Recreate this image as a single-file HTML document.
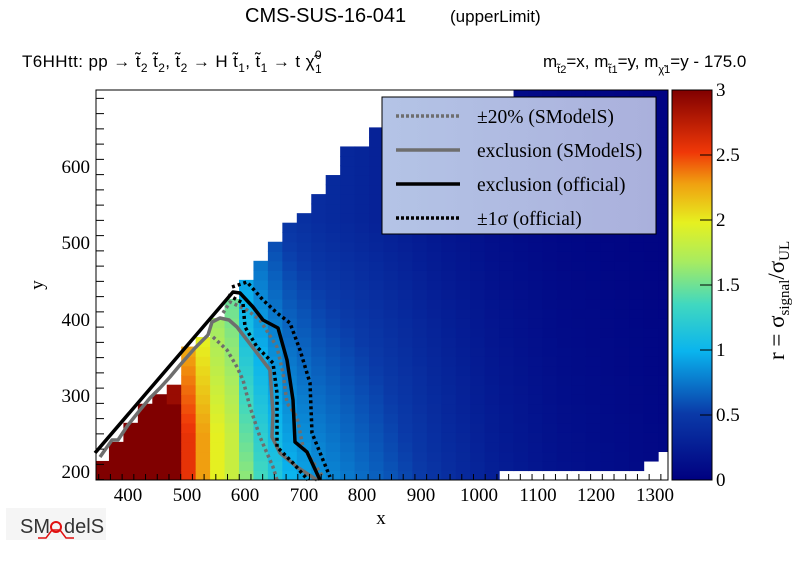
<!DOCTYPE html>
<html><head><meta charset="utf-8"><style>
body{margin:0;background:#fff;width:796px;height:572px;overflow:hidden;font-family:"Liberation Sans",sans-serif}
</style></head><body>
<svg id="s" width="796" height="572" xmlns="http://www.w3.org/2000/svg" font-family="Liberation Sans, sans-serif">
<defs>
<linearGradient id="cb" x1="0" y1="1" x2="0" y2="0">
<stop offset="0" stop-color="#000080"/>
<stop offset="0.17" stop-color="#0a3aa8"/>
<stop offset="0.33" stop-color="#0ab4ee"/>
<stop offset="0.45" stop-color="#40d8c0"/>
<stop offset="0.56" stop-color="#a8ec60"/>
<stop offset="0.66" stop-color="#e6f020"/>
<stop offset="0.76" stop-color="#f0a010"/>
<stop offset="0.84" stop-color="#f03808"/>
<stop offset="1" stop-color="#800000"/>
</linearGradient>
<linearGradient id="lg" x1="0" y1="0" x2="1" y2="0">
<stop offset="0" stop-color="#b4c4e6"/><stop offset="1" stop-color="#aab0dc"/>
</linearGradient>
</defs>
<g id="cells"></g>
<g fill="none" stroke-linejoin="round">
<polyline stroke="#6e6e6e" stroke-width="3.5" points="100,457 112,440 118,440 128,425 140,410 150,398 160,388 170,377 180,365 195,348 208,335 212,322 220,318 229,320 237,327 247,340 257,353 270,370 273,413 272,437 280,453 297,467 317,480"/>
<polyline stroke="#6e6e6e" stroke-width="3.5" stroke-dasharray="3,3" points="223,313 230,302 247,310 260,320 277,347 283,373 287,403 297,417 303,447 323,477"/>
<polyline stroke="#6e6e6e" stroke-width="3.5" stroke-dasharray="3,3" points="213,337 227,350 237,367 243,380 250,407 260,437 273,467 277,480"/>
<polyline stroke="#000" stroke-width="3.5" points="95,453 233,292 240,293 253,307 263,320 278,328 287,360 293,400 295,442 307,452 320,480"/>
<polyline stroke="#000" stroke-width="3.5" stroke-dasharray="3,3" points="232,287 247,282 263,300 277,313 290,323 300,350 310,383 312,433 323,460 330,477"/>
<polyline stroke="#000" stroke-width="3.5" stroke-dasharray="3,3" points="228,295 243,303 245,327 257,347 273,363 277,393 277,447 293,463 308,480"/>
</g>
<rect x="96" y="90" width="572" height="390" fill="none" stroke="#000" stroke-width="1"/>
<g id="ticks" stroke="#000" stroke-width="1"></g>
<g font-size="19" text-anchor="middle" fill="#000" font-family="Liberation Serif, serif">
<text x="128" y="501">400</text><text x="187" y="501">500</text><text x="245" y="501">600</text><text x="304" y="501">700</text><text x="362" y="501">800</text><text x="421" y="501">900</text><text x="479" y="501">1000</text><text x="538" y="501">1100</text><text x="596" y="501">1200</text><text x="655" y="501">1300</text>
<text x="381" y="524">x</text>
</g>
<g font-size="19" text-anchor="end" fill="#000" font-family="Liberation Serif, serif">
<text x="90" y="478">200</text><text x="90" y="402">300</text><text x="90" y="326">400</text><text x="90" y="249">500</text><text x="90" y="173">600</text>
</g>
<text x="43" y="285" font-size="19" font-family="Liberation Serif, serif" transform="rotate(-90 43 285)" text-anchor="middle">y</text>
<rect x="382" y="97" width="274" height="137" fill="url(#lg)" stroke="#000" stroke-width="1"/>
<g stroke-width="3.5">
<line x1="396" y1="116" x2="460" y2="116" stroke="#6e6e6e" stroke-dasharray="3,2"/>
<line x1="396" y1="150" x2="460" y2="150" stroke="#6e6e6e"/>
<line x1="396" y1="184" x2="460" y2="184" stroke="#000"/>
<line x1="396" y1="218" x2="460" y2="218" stroke="#000" stroke-dasharray="3,2"/>
</g>
<g font-size="19.5" font-family="Liberation Serif, serif">
<text x="477" y="123">±20% (SModelS)</text>
<text x="477" y="157">exclusion (SModelS)</text>
<text x="477" y="191">exclusion (official)</text>
<text x="477" y="225">±1σ (official)</text>
</g>
<rect x="672" y="90" width="40" height="390" fill="url(#cb)"/>
<rect x="672" y="90" width="40" height="390" fill="none" stroke="#000"/>
<g stroke="#000"><line x1="700" y1="480" x2="712" y2="480"/><line x1="700" y1="415" x2="712" y2="415"/><line x1="700" y1="350" x2="712" y2="350"/><line x1="700" y1="285" x2="712" y2="285"/><line x1="700" y1="220" x2="712" y2="220"/><line x1="700" y1="155" x2="712" y2="155"/><line x1="700" y1="90" x2="712" y2="90"/></g>
<g font-size="19" font-family="Liberation Serif, serif">
<text x="716" y="486">0</text><text x="716" y="421">0.5</text><text x="716" y="356">1</text><text x="716" y="291">1.5</text><text x="716" y="226">2</text><text x="716" y="161">2.5</text><text x="716" y="96">3</text>
</g>
<text transform="translate(784,360) rotate(-90)" font-size="23" font-family="Liberation Serif, serif">r = σ<tspan font-size="15" dy="5">signal</tspan><tspan dy="-5">/σ</tspan><tspan font-size="15" dy="5">UL</tspan></text>
<text x="245" y="22" font-size="20">CMS-SUS-16-041<tspan x="450" font-size="17">(upperLimit)</tspan></text>
<text x="22" y="67" font-size="17" textLength="300">T6HHtt: pp → t̃<tspan font-size="12" dy="5">2</tspan><tspan dy="-5"> t̃</tspan><tspan font-size="12" dy="5">2</tspan><tspan dy="-5">, t̃</tspan><tspan font-size="12" dy="5">2</tspan><tspan dy="-5">  → H t̃</tspan><tspan font-size="12" dy="5">1</tspan><tspan dy="-5">, t̃</tspan><tspan font-size="12" dy="5">1</tspan><tspan dy="-5"> → t χ̃</tspan><tspan font-size="12" dy="-8">0</tspan><tspan font-size="12" dx="-7" dy="14">1</tspan></text>
<text x="543" y="67" font-size="17">m<tspan font-size="11" dy="6">t̃2</tspan><tspan dy="-6">=x, m</tspan><tspan font-size="11" dy="6">t̃1</tspan><tspan dy="-6">=y, m</tspan><tspan font-size="11" dy="6">χ̃1</tspan><tspan dy="-6">=y - 175.0</tspan></text>
<g>
<rect x="6" y="508" width="100" height="32" fill="#eee" opacity="0.6"/>
<text x="20" y="533" font-size="20" fill="#333">SM<tspan dx="14">delS</tspan></text>
<circle cx="56" cy="527" r="5" fill="none" stroke="#e01010" stroke-width="2"/>
<polyline points="38,538 46,538 52,530 60,530 66,538 74,538" fill="none" stroke="#e01010" stroke-width="1.5"/>
</g>
</svg>
<script>
(function(){
var NS="http://www.w3.org/2000/svg",g=document.getElementById('cells');
function interp(P,x){if(x<=P[0][0])return P[0][1];for(var i=0;i<P.length-1;i++){if(x<=P[i+1][0]){var t=(x-P[i][0])/(P[i+1][0]-P[i][0]);return P[i][1]+t*(P[i+1][1]-P[i][1]);}}return P[P.length-1][1];}
var TOP=[[101.7,460],[116.2,440],[130.6,423],[145,402],[159.5,392],[174,383],[188.4,347],[202.8,333],[217.3,318],[231.7,295],[246.2,276],[260.6,256],[275,237],[289.5,217],[304,208],[318.4,188],[332.8,169],[347.3,149],[361.7,140],[376,130],[390.6,118]];
function topAt(cx){if(cx>510)return 88;if(cx>410)return 99;if(cx>383)return 117;
 for(var i=0;i<TOP.length;i++){if(Math.abs(TOP[i][0]-cx)<7.3)return TOP[i][1];}return 117;}
var stops=[[0,[0,0,128]],[0.5,[10,58,168]],[1,[10,180,238]],[1.35,[64,216,192]],[1.7,[168,236,96]],[2,[230,240,32]],[2.3,[240,160,16]],[2.55,[240,56,8]],[3,[128,0,0]]];
function col(r){r=Math.max(0,Math.min(3,r));for(var i=0;i<stops.length-1;i++){if(r<=stops[i+1][0]){var t=(r-stops[i][0])/(stops[i+1][0]-stops[i][0]);var a=stops[i][1],b=stops[i+1][1];return 'rgb('+[0,1,2].map(function(k){return Math.round(a[k]+t*(b[k]-a[k]))}).join(',')+')';}}return 'rgb(128,0,0)';}
var BASE=[[101,3.2],[160,3.2],[174,3.1],[188,2.6],[203,2.3],[217,2.0],[232,1.85],[246,1.6],[260,1.35],[275,1.15],[289,1.0],[304,0.92],[318,0.85],[380,0.64],[440,0.42],[495,0.26],[560,0.15],[668,0.07]];
function rv(cx,y){var r=interp(BASE,cx);
 if(cx>165&&cx<182){ r = y>330?2.6:(y>290?2.9:3.2);}
 else if(cx>182&&cx<240){ r*=1-Math.max(0,y-250)/900;}
 else if(cx>=240){ r*=Math.max(0.45,1-(y-200)/600);}
 return r;}
var w=14.45,h=9.53,x0=94.5;
for(var px=x0;px<668;px+=w){for(var py=480-h;py>88;py-=h){
 var cx=px+w/2,cy=py+h/2;
 if(py<topAt(cx)-3)continue;
 if(cy>470&&cx>496&&cx<=639)continue; if(cy>461&&cx>639&&cx<=654)continue; if(cy>451&&cx>654)continue;
 var y=189.5+(480-cy)/0.7625;
 var r=rv(cx,y);
 var xs=Math.max(px,96),xe=Math.min(px+w+0.6,668),ys=Math.max(py,90),ye=Math.min(py+h+0.6,480);
 var e=document.createElementNS(NS,'rect');
 e.setAttribute('x',xs);e.setAttribute('y',ys);e.setAttribute('width',xe-xs);e.setAttribute('height',ye-ys);e.setAttribute('fill',col(r));g.appendChild(e);}}
var t=document.getElementById('ticks');
function L(a,b,c,d){var e=document.createElementNS(NS,'line');e.setAttribute('x1',a);e.setAttribute('y1',b);e.setAttribute('x2',c);e.setAttribute('y2',d);t.appendChild(e);}
for(var v=350;v<=1320;v+=20){var p=96+(v-345.4)*0.5856;if(p<96||p>668)continue;L(p,480,p,(v%100==0)?468:474);}
for(var v=190;v<=700;v+=20){var p=480-(v-189.5)*0.7625;if(p<90||p>480)continue;L(96,p,(v%100==0)?112:104,p);}
})();
</script>
</body></html>
